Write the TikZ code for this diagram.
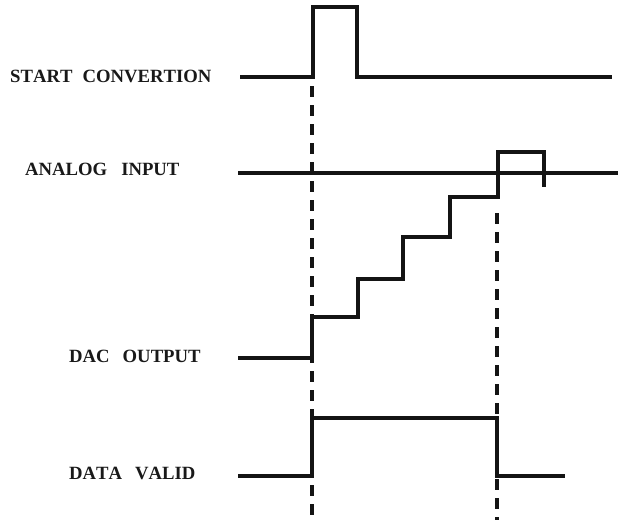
\documentclass[tikz,border=0pt]{standalone}
\usepackage{fontspec}
\setmainfont{Liberation Serif}[Kerning=Off]
\begin{document}
\begin{tikzpicture}[x=1pt,y=-1pt,
  sig/.style={line width=3.1pt,color=black!92,line join=miter},
  guide/.style={line width=3.1pt,color=black!92,dash pattern=on 11pt off 8pt},
  lbl/.style={anchor=base west,inner sep=0pt,font=\bfseries\fontsize{18.7}{20}\selectfont,text=black!90}]
\useasboundingbox[fill=white] (0,0) rectangle (618,520);
% labels
\node[lbl] (lstart) at (10,82) {START\hspace{10pt}CONVERTION};
\node[lbl] (lanalog) at (25,175) {ANALOG\hspace{14pt}INPUT};
\node[lbl] (ldac) at (69,362) {DAC\hspace{13pt}OUTPUT};
\node[lbl] (lvalid) at (69,479) {DATA\hspace{13pt}VALID};
% start conversion pulse
\draw[sig] (240,77) -- (313,77) -- (313,7) -- (357,7) -- (357,77) -- (612,77);
% analog input
\draw[sig] (238,173) -- (618,173);
% dac output staircase
\draw[sig] (238,358) -- (312,358) -- (312,317) -- (358,317) -- (358,279)
  -- (403,279) -- (403,237) -- (450,237) -- (450,197) -- (498,197)
  -- (498,152) -- (544,152) -- (544,187);
% data valid
\draw[sig] (238,476) -- (312,476) -- (312,418) -- (497,418) -- (497,476) -- (565,476);
% guide lines
\coordinate (g1a) at (312,86);
\coordinate (g1b) at (312,520);
\coordinate (g2a) at (497,213);
\coordinate (g2b) at (497,520);
\draw[guide] (g1a) -- (g1b);
\draw[guide] (g2a) -- (g2b);
\end{tikzpicture}
\end{document}
